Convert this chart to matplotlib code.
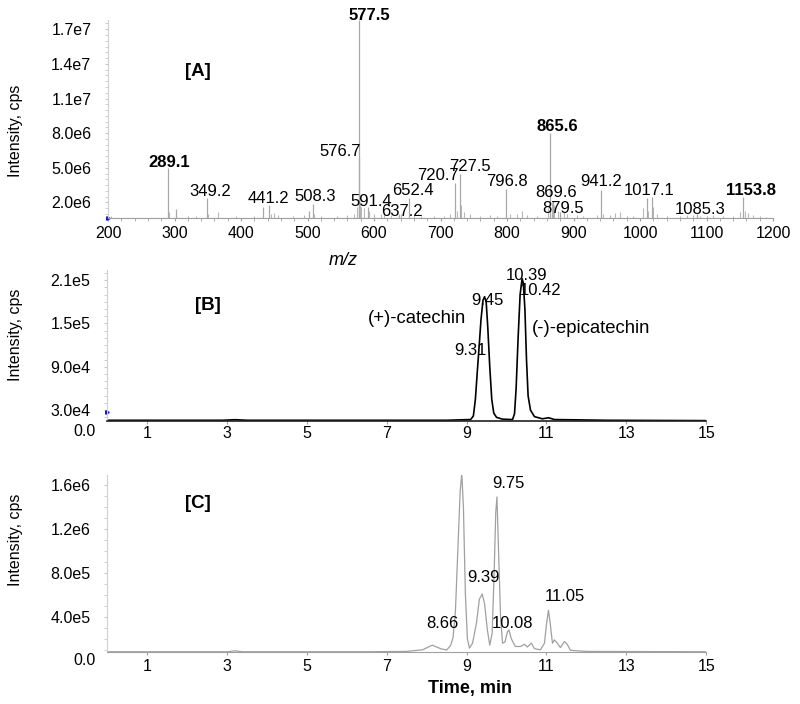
import matplotlib
matplotlib.use("Agg")
import matplotlib.pyplot as plt
from matplotlib.ticker import MultipleLocator

plt.rcParams['font.family'] = ['Liberation Sans', 'DejaVu Sans']

# ---------------- datos panel A (espectro de masas) ----------------
mz_picos = [289.6, 303, 349.0, 433, 441.8, 502, 508.3, 576.7, 577.5, 591.4,
            637.2, 652.6, 721.8, 729.0, 798.0, 864.7, 869.6, 879.5, 941.4,
            1010, 1018, 1085.3, 1155]
int_picos = [5.0e6, 1.4e6, 2.4e6, 1.6e6, 1.8e6, 1.3e6, 1.9e6, 5.85e6, 1.78e7, 1.6e6,
             1.0e6, 2.4e6, 3.7e6, 4.5e6, 3.2e6, 8.0e6, 2.1e6, 1.2e6, 3.1e6,
             2.4e6, 2.5e6, 1.0e6, 2.5e6]
mz_ruido = [205, 291, 320, 333, 351, 366, 392, 420, 445, 450, 455, 478, 495, 510,
            520, 545, 560, 570, 575, 578.5, 580, 585, 593, 600, 610, 615, 625, 640,
            660, 670, 690, 705, 715, 725, 731, 735, 745, 760, 775, 785, 805, 815,
            822, 830, 845, 862, 867, 871, 877, 885, 890, 905, 915, 935, 945, 955,
            962, 970, 980, 990, 1005, 1012, 1020, 1025, 1040, 1060, 1070, 1080,
            1090, 1100, 1110, 1125, 1140, 1150, 1158, 1162, 1170, 1180, 1190]
int_ruido = [0.8e6, 1.2e6, 0.85e6, 0.8e6, 1.0e6, 1.2e6, 0.8e6, 0.8e6, 1.0e6, 1.1e6,
             0.9e6, 0.8e6, 0.9e6, 1.0e6, 0.85e6, 0.8e6, 0.9e6, 1.0e6, 1.6e6, 2.0e6,
             1.6e6, 1.5e6, 1.3e6, 1.0e6, 1.0e6, 1.2e6, 0.9e6, 1.0e6, 0.9e6, 0.8e6,
             0.8e6, 0.85e6, 1.0e6, 1.3e6, 1.8e6, 1.2e6, 1.0e6, 0.85e6, 0.9e6, 0.85e6,
             1.0e6, 1.0e6, 1.3e6, 0.9e6, 0.85e6, 1.5e6, 2.0e6, 1.8e6, 1.3e6, 1.2e6,
             1.0e6, 0.9e6, 0.85e6, 0.9e6, 1.0e6, 0.9e6, 1.1e6, 1.2e6, 0.85e6, 0.8e6,
             1.5e6, 1.3e6, 1.6e6, 1.0e6, 0.8e6, 0.85e6, 0.9e6, 0.9e6, 0.85e6, 0.8e6,
             0.9e6, 0.8e6, 0.8e6, 1.2e6, 1.3e6, 1.1e6, 0.9e6, 0.8e6, 0.75e6]
etiquetas_A = ["289.1", "349.2", "441.2", "508.3", "576.7", "577.5", "591.4", "637.2",
               "652.4", "720.7", "727.5", "796.8", "865.6", "869.6", "879.5", "941.2",
               "1017.1", "1085.3", "1153.8"]
negritas_A = ["289.1", "577.5", "865.6", "1153.8"]
# posicion de cada etiqueta (m/z, intensidad)
pos_A = [(292.5, 5.47e6), (354.1, 2.92e6), (440.6, 2.36e6), (512.0, 2.49e6),
         (549.6, 6.38e6), (592.5, 1.822e7), (595.5, 2.06e6), (642.1, 1.19e6),
         (657.9, 3.01e6), (696.2, 4.30e6), (744.4, 5.08e6), (800.0, 3.79e6),
         (875.9, 8.58e6), (873.7, 2.83e6), (884.2, 1.50e6), (941.4, 3.79e6),
         (1013.5, 3.01e6), (1090.2, 1.37e6), (1166.2, 3.01e6)]
yticks_A = [2.0e6, 5.0e6, 8.0e6, 1.1e7, 1.4e7, 1.7e7]
yticklabels_A = ["2.0e6", "5.0e6", "8.0e6", "1.1e7", "1.4e7", "1.7e7"]

# ---------------- datos panel B (catequina / epicatequina) ----------------
t_B = [0, 2.9, 3.2, 3.5, 8.5, 9.1, 9.17, 9.22, 9.27, 9.31, 9.36, 9.41, 9.45, 9.49,
       9.53, 9.58, 9.63, 9.68, 9.75, 9.9, 10.15, 10.2, 10.24, 10.29, 10.34, 10.39,
       10.42, 10.46, 10.5, 10.54, 10.6, 10.7, 10.9, 11.05, 11.2, 12.5, 15]
i_B = [1.6e4, 1.6e4, 1.68e4, 1.6e4, 1.6e4, 1.7e4, 2.2e4, 4.5e4, 8.5e4, 11.5e4, 15.5e4,
       18.2e4, 18.7e4, 18.0e4, 14.5e4, 9.0e4, 4.5e4, 2.6e4, 2.0e4, 1.75e4, 1.7e4,
       2.5e4, 6.0e4, 13.0e4, 19.0e4, 21.2e4, 20.6e4, 17.0e4, 10.0e4, 5.0e4, 3.0e4,
       2.1e4, 1.8e4, 1.95e4, 1.7e4, 1.6e4, 1.55e4]
etiquetas_B = ["9.45", "9.31", "10.39", "10.42"]
pos_B = [(9.52, 1.824e5), (9.10, 1.13e5), (10.51, 2.17e5), (10.86, 1.96e5)]
nombres_B = ["(+)-catechin", "(-)-epicatechin"]
pos_nombres_B = [(7.75, 1.575e5), (12.11, 1.436e5)]
yticks_B = [3.0e4, 9.0e4, 1.5e5, 2.1e5]
yticklabels_B = ["3.0e4", "9.0e4", "1.5e5", "2.1e5"]

# ---------------- datos panel C (extracto) ----------------
t_C = [0, 3.0, 3.2, 3.4, 6.5, 7.5, 7.9, 8.14, 8.35, 8.5, 8.6, 8.66, 8.72, 8.78, 8.84,
       8.88, 8.92, 8.97, 9.02, 9.07, 9.15, 9.25, 9.32, 9.39, 9.45, 9.52, 9.58, 9.64,
       9.69, 9.73, 9.76, 9.8, 9.85, 9.9, 9.96, 10.02, 10.06, 10.12, 10.22, 10.35,
       10.45, 10.52, 10.62, 10.7, 10.85, 10.95, 11.0, 11.05, 11.1, 11.15, 11.2,
       11.27, 11.35, 11.45, 11.52, 11.6, 12, 15]
i_C = [0.82e5, 0.82e5, 0.9e5, 0.82e5, 0.82e5, 0.85e5, 1.0e5, 1.42e5, 1.1e5, 0.97e5,
       1.4e5, 2.1e5, 4.5e5, 10e5, 15.5e5, 17.0e5, 14e5, 6e5, 2.0e5, 1.15e5, 1.6e5,
       3.5e5, 5.6e5, 6.07e5, 5.2e5, 2.8e5, 1.42e5, 2.5e5, 8e5, 13.5e5, 14.9e5, 10e5,
       4e5, 1.6e5, 1.7e5, 2.6e5, 2.8e5, 2.0e5, 1.3e5, 1.3e5, 1.5e5, 1.25e5, 1.6e5,
       1.1e5, 1.0e5, 1.6e5, 3.3e5, 4.6e5, 3.2e5, 1.6e5, 1.9e5, 1.6e5, 1.2e5, 1.75e5,
       1.5e5, 0.95e5, 0.85e5, 0.82e5]
etiquetas_C = ["8.66", "9.39", "9.75", "10.08", "11.05"]
pos_C = [(8.40, 3.43e5), (9.43, 7.53e5), (10.05, 1.61e6), (10.16, 3.43e5), (11.46, 5.89e5)]
yticks_C = [4.0e5, 8.0e5, 1.2e6, 1.6e6]
yticklabels_C = ["4.0e5", "8.0e5", "1.2e6", "1.6e6"]

xticks_t = [1, 3, 5, 7, 9, 11, 13, 15]

fs_tick = 11.5
fs_pico = 12


def estilo_ejes(ax, pad_x):
    for lado in ["top", "right"]:
        ax.spines[lado].set_visible(False)
    ax.spines["left"].set_color("#d0d0d0")
    ax.spines["bottom"].set_color("#a0a0a0")
    ax.tick_params(axis="y", which="both", length=2, color="#c8c8c8",
                   labelsize=fs_tick, pad=10)
    ax.tick_params(axis="x", which="both", length=2, color="#a0a0a0",
                   labelsize=fs_tick, pad=pad_x)


fig = plt.figure(figsize=(8, 7.04), dpi=100)

# ---------- Panel A ----------
axA = fig.add_axes([0.135, 0.6903, 0.83125, 0.28125])
baseA = 0.65e6
axA.axhline(baseA, color="#b0b0b0", lw=0.8)
axA.vlines(mz_ruido, baseA, int_ruido, color="#b8b8b8", lw=0.8)
axA.vlines(mz_picos, baseA, int_picos, color="#a8a8a8", lw=0.9)
axA.set_xlim(200, 1200)
axA.set_ylim(baseA, 1.78e7)
axA.set_xticks(range(200, 1201, 100))
axA.xaxis.set_minor_locator(MultipleLocator(20))
axA.set_yticks(yticks_A)
axA.set_yticklabels(yticklabels_A)
axA.yaxis.set_minor_locator(MultipleLocator(5e5))
estilo_ejes(axA, 3.5)
for txt, (x, y) in zip(etiquetas_A, pos_A):
    axA.text(x, y, txt, ha="center", va="center", fontsize=fs_pico,
             fontweight="bold" if txt in negritas_A else "normal", clip_on=False)
axA.plot([200], [baseA], marker=">", color="#1010c0", ms=2.5, clip_on=False)

# ---------- Panel B ----------
axB = fig.add_axes([0.134, 0.402, 0.74875, 0.2145])
axB.plot(t_B, i_B, color="black", lw=1.2)
axB.set_xlim(0, 15)
axB.set_ylim(1.5e4, 2.24e5)
axB.set_xticks(xticks_t)
axB.set_yticks(yticks_B)
axB.set_yticklabels(yticklabels_B)
axB.yaxis.set_minor_locator(MultipleLocator(1e4))
estilo_ejes(axB, 1.5)
axB.spines["bottom"].set_color("#202020")
axB.spines["bottom"].set_linewidth(1.2)
for txt, (x, y) in zip(etiquetas_B, pos_B):
    axB.text(x, y, txt, ha="center", va="center", fontsize=fs_pico)
for txt, (x, y) in zip(nombres_B, pos_nombres_B):
    axB.text(x, y, txt, ha="center", va="center", fontsize=13.3)
axB.text(-0.02, 0, "0.0", transform=axB.get_yaxis_transform(), ha="right",
         va="center", fontsize=fs_tick, clip_on=False)
axB.plot([0], [2.7e4], marker=">", color="#1010c0", ms=2.5, clip_on=False)

# ---------- Panel C ----------
axC = fig.add_axes([0.134, 0.0739, 0.74875, 0.2514])
axC.plot(t_C, i_C, color="#a0a0a0", lw=0.9)
axC.set_xlim(0, 15)
axC.set_ylim(0.8e5, 1.69e6)
axC.set_xticks(xticks_t)
axC.set_yticks(yticks_C)
axC.set_yticklabels(yticklabels_C)
axC.yaxis.set_minor_locator(MultipleLocator(1e5))
estilo_ejes(axC, 3)
for txt, (x, y) in zip(etiquetas_C, pos_C):
    axC.text(x, y, txt, ha="center", va="center", fontsize=fs_pico)
axC.text(-0.02, 0, "0.0", transform=axC.get_yaxis_transform(), ha="right",
         va="center", fontsize=fs_tick, clip_on=False)

# ---------- textos de la figura ----------
for yc in [131, 335, 540]:
    fig.text(16 / 800, 1 - yc / 704, "Intensity, cps", rotation=90,
             ha="center", va="center", fontsize=11.5)
fig.text(343 / 800, 1 - 260 / 704, "m/z", style="italic", ha="center",
         va="center", fontsize=13)
fig.text(470 / 800, 1 - 688 / 704, "Time, min", fontweight="bold", ha="center",
         va="center", fontsize=13)
for txt, (xc, yc) in zip(["[A]", "[B]", "[C]"], [(198, 71), (208, 305), (198, 503)]):
    fig.text(xc / 800, 1 - yc / 704, txt, fontweight="bold", ha="center",
             va="center", fontsize=13.5)

fig.savefig("out.png", dpi=100)
